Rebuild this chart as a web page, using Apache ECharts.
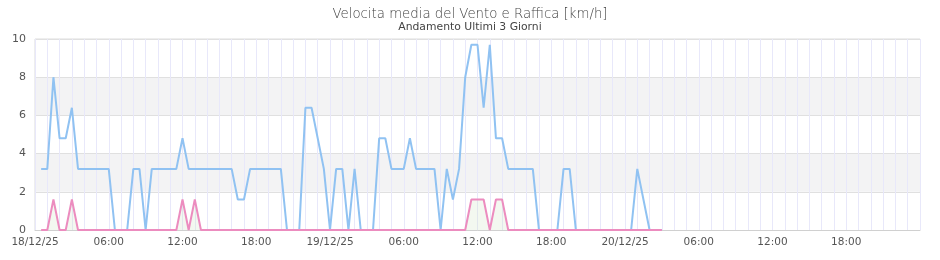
<!DOCTYPE html>
<html><head><meta charset="utf-8">
<script src="https://cdn.jsdelivr.net/npm/echarts@6/dist/echarts.min.js"></script>
<style>html,body{margin:0;padding:0;background:#fff}#c{width:940px;height:260px}</style>
</head><body><div id="c"></div>
<script>
var titleText = 'Velocita media del Vento e Raffica [km/h]';
var subText = 'Andamento Ultimi 3 Giorni';
var dayLabels = ['18/12/25', '19/12/25', '20/12/25'];
var yTicks = [0, 2, 4, 6, 8, 10];
// hours since 18/12/25 00:00
var hours = [0.5,1,1.5,2,2.5,3,3.5,4,4.5,5,5.5,6,6.5,7,7.5,8,8.5,9,9.5,10,10.5,11,11.5,12,12.5,13,13.5,14,14.5,15,15.5,16,16.5,17,17.5,18,18.5,19,19.5,20,20.5,21,21.5,22,22.5,23,23.5,24,24.5,25,25.5,26,26.5,27,27.5,28,28.5,29,29.5,30,30.5,31,31.5,32,32.5,33,33.5,34,34.5,35,35.5,36,36.5,37,37.5,38,38.5,39,39.5,40,40.5,41,41.5,42,42.5,43,43.5,44,44.5,45,45.5,46,46.5,47,47.5,48,48.5,49,49.5,50,50.5,51];
var vento = [3.2,3.2,8.0,4.8,4.8,6.4,3.2,3.2,3.2,3.2,3.2,3.2,
  0,0,0,3.2,3.2,0,3.2,3.2,3.2,3.2,3.2,4.8,3.2,
  3.2,3.2,3.2,3.2,3.2,3.2,3.2,
  1.6,1.6,
  3.2,3.2,3.2,3.2,3.2,3.2,
  0,0,0,
  6.4,6.4,4.8,3.2,0,3.2,3.2,0,3.2,
  0,0,0,
  4.8,4.8,
  3.2,3.2,3.2,
  4.8,
  3.2,3.2,3.2,3.2,
  0,3.2,1.6,3.2,8.0,9.7,9.7,6.4,9.7,4.8,4.8,
  3.2,3.2,3.2,3.2,3.2,
  0,0,0,0,
  3.2,3.2,
  0,0,0,0,0,0,0,0,0,0,
  3.2,1.6,
  0,0,0];
var raffica = [0,0,1.6,0,0,1.6,0,0,0,0,0,0,
  0,0,0,0,0,0,0,0,0,0,0,1.6,0,
  1.6,0,0,0,0,0,0,
  0,0,
  0,0,0,0,0,0,
  0,0,0,
  0,0,0,0,0,0,0,0,0,
  0,0,0,
  0,0,
  0,0,0,
  0,
  0,0,0,0,
  0,0,0,0,0,1.6,1.6,1.6,0,1.6,1.6,
  0,0,0,0,0,
  0,0,0,0,
  0,0,
  0,0,0,0,0,0,0,0,0,0,
  0,0,
  0,0,0];

function pair(vals){ return hours.map(function(h,i){ return [h, vals[i]]; }); }

var chart = echarts.init(document.getElementById('c'), null, {renderer:'canvas'});
chart.setOption({
  animation: false,
  backgroundColor: '#fff',
  title: [
    {text: titleText, left: 'center', top: 3, textStyle: {fontFamily: 'DejaVu Sans', fontSize: 13.3, fontWeight: 200, color: '#444'}},
    {text: subText, left: 'center', top: 17, textStyle: {fontFamily: 'DejaVu Sans', fontSize: 10.8, fontWeight: 'normal', color: '#444'}}
  ],
  grid: {left: 35, right: 20, top: 39, bottom: 30, show: true, borderColor: '#dcdcdc', borderWidth: 1, backgroundColor: 'transparent'},
  xAxis: {
    type: 'value', min: 0, max: 72, interval: 1,
    axisLine: {show: true, lineStyle: {color: '#d0d0d0'}},
    axisTick: {show: false},
    splitLine: {show: true, lineStyle: {color: '#e8e8fa', width: 1}},
    axisLabel: {
      color: '#555', fontFamily: 'DejaVu Sans', fontSize: 10.5, margin: 7,
      showMinLabel: true, showMaxLabel: false,
      formatter: function(v){
        if (v % 6 !== 0 || v >= 72) return '';
        if (v % 24 === 0) return dayLabels[v/24];
        var h = v % 24; return (h < 10 ? '0' + h : h) + ':00';
      }
    }
  },
  yAxis: {
    type: 'value', min: yTicks[0], max: yTicks[yTicks.length-1], interval: 2,
    axisLine: {show: false}, axisTick: {show: false},
    axisLabel: {color: '#555', fontFamily: 'DejaVu Sans', fontSize: 11, margin: 9},
    splitLine: {show: true, lineStyle: {color: '#e0e0e0'}},
    splitArea: {show: true, areaStyle: {color: ['#ffffff', '#f3f3f4']}}
  },
  series: [
    {name: 'Vento', type: 'line', data: pair(vento), showSymbol: false, symbol: 'none',
     lineStyle: {color: '#90c2f2', width: 2}, itemStyle: {color: '#90c2f2'}},
    {name: 'Raffica', type: 'line', data: pair(raffica), showSymbol: false, symbol: 'none',
     lineStyle: {color: '#ec8cbf', width: 2}, itemStyle: {color: '#ec8cbf'},
     areaStyle: {color: 'rgba(205,225,195,0.35)'}}
  ]
});
</script></body></html>
